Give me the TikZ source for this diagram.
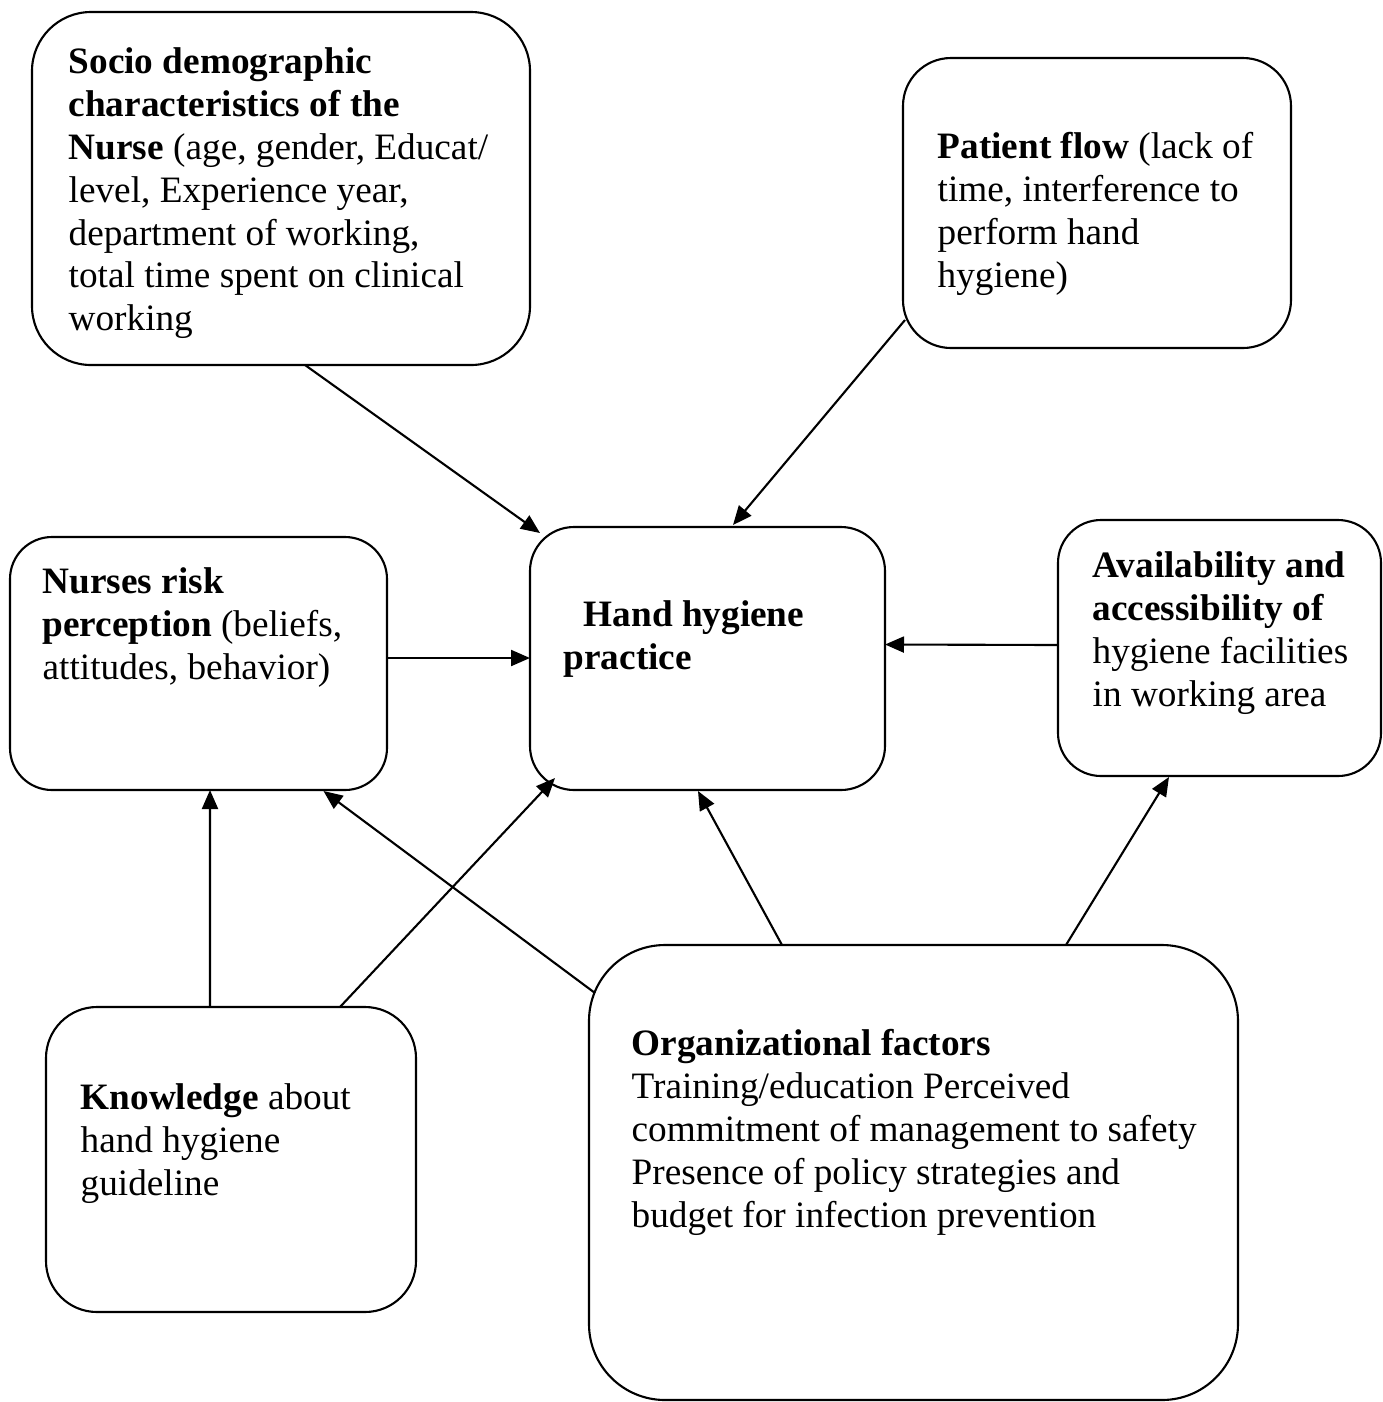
\documentclass[tikz,border=0pt]{standalone}
\usepackage{fontspec}
\setmainfont{Liberation Serif}
\usetikzlibrary{arrows.meta}

\begin{document}
\begin{tikzpicture}[
  box/.style={draw,line width=0.6pt,inner sep=0pt,outer sep=0pt},
  txt/.style={anchor=north west,align=left,inner sep=0pt,font=\fontsize{10.6}{12.2}\selectfont},
  arr/.style={line width=0.6pt,-{Triangle[length=1.9mm,width=1.6mm]}}
]
\useasboundingbox (0,0) rectangle (13.83,-14.02);

% Boxes
\node[box,rounded corners=0.59cm,minimum width=4.98cm,minimum height=3.53cm] (socio) at (2.81,-1.885) {};
\node[box,rounded corners=0.48cm,minimum width=3.88cm,minimum height=2.90cm] (patient) at (10.97,-2.03) {};
\node[box,rounded corners=0.42cm,minimum width=3.77cm,minimum height=2.53cm] (nurses) at (1.985,-6.635) {};
\node[box,rounded corners=0.44cm,minimum width=3.55cm,minimum height=2.63cm] (hand) at (7.075,-6.585) {};
\node[box,rounded corners=0.43cm,minimum width=3.23cm,minimum height=2.56cm] (avail) at (12.195,-6.48) {};
\node[box,rounded corners=0.51cm,minimum width=3.70cm,minimum height=3.05cm] (know) at (2.31,-11.595) {};
\node[box,rounded corners=0.76cm,minimum width=6.49cm,minimum height=4.55cm] (org) at (9.135,-11.725) {};

% Texts
\node[txt] (sociotxt) at (0.68,-0.47) {\textbf{Socio demographic}\\
\textbf{characteristics of the}\\
\textbf{Nurse} (age, gender, Educat/\\
level, Experience year,\\
department of working,\\
total time spent on clinical\\
working};
\node[txt] (patienttxt) at (9.37,-1.32) {\textbf{Patient flow} (lack of\\
time, interference to\\
perform hand\\
hygiene)};
\node[txt] (nursestxt) at (0.42,-5.67) {\textbf{Nurses risk}\\
\textbf{perception} (beliefs,\\
attitudes, behavior)};
\node[txt] (handtxt) at (5.63,-6.00) {\hspace*{0.2cm}\textbf{Hand hygiene}\\
\textbf{practice}};
\node[txt] (availtxt) at (10.92,-5.51) {\textbf{Availability and}\\
\textbf{accessibility of}\\
hygiene facilities\\
in working area};
\node[txt] (knowtxt) at (0.80,-10.83) {\textbf{Knowledge} about\\
hand hygiene\\
guideline};
\node[txt] (orgtxt) at (6.31,-10.29) {\textbf{Organizational factors}\\
Training/education Perceived\\
commitment of management to safety\\
Presence of policy strategies and\\
budget for infection prevention};

% Arrows into hand hygiene practice
\draw[arr] ([xshift=0.24cm]socio.south) -- ([xshift=0.10cm,yshift=-0.06cm]hand.north west);
\draw[arr] ([xshift=0.02cm,yshift=-1.17cm]patient.west) -- ([xshift=0.255cm,yshift=0.02cm]hand.north);
\draw[arr] ([yshift=0.055cm]nurses.east) -- ([yshift=0.005cm]hand.west);
\draw[arr] ([yshift=0.03cm]avail.west) -- ([yshift=0.14cm]hand.east);
\draw[arr] ([xshift=1.09cm]know.north) -- ([xshift=0.25cm,yshift=0.12cm]hand.south west);
\draw[arr] ([xshift=-1.315cm]org.north) -- ([xshift=-0.095cm,yshift=-0.01cm]hand.south);

% Other arrows
\draw[arr] ([xshift=-0.21cm]know.north) -- ([xshift=0.115cm]nurses.south);
\draw[arr] ([xshift=0.06cm,yshift=-0.48cm]org.north west) -- ([xshift=1.25cm,yshift=-0.01cm]nurses.south);
\draw[arr] ([xshift=1.525cm]org.north) -- ([xshift=-0.505cm,yshift=-0.01cm]avail.south);
\end{tikzpicture}
\end{document}
